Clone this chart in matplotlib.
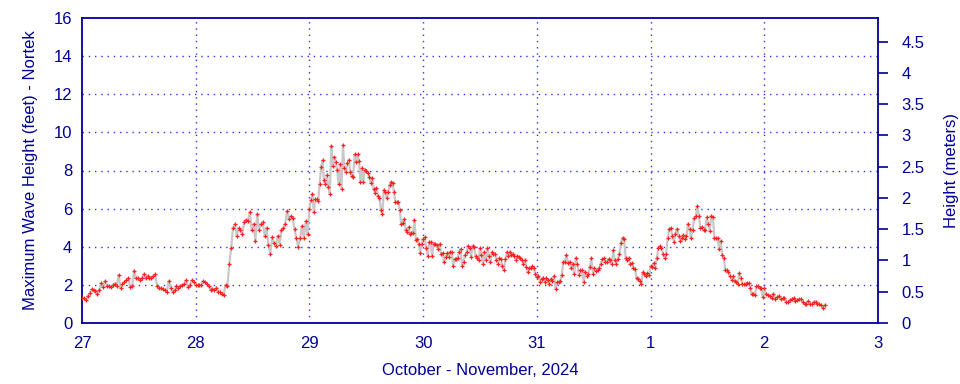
import numpy as np
import matplotlib
matplotlib.use("Agg")
from matplotlib import pyplot as plt

plt.rcParams["font.family"] = ["Liberation Sans", "DejaVu Sans"]

NAVY = "#000096"

# max wave height (ft), one list per day, readings evenly spread over the day
oct27 = [1.29, 1.29, 1.22, 1.43, 1.55, 1.78, 1.71, 1.70, 1.50, 1.75,
         2.08, 1.89, 2.19, 1.96, 1.92, 1.89, 1.99, 2.06, 1.92, 2.52,
         1.85, 2.06, 2.17, 2.24, 2.34, 1.89, 1.92, 2.75, 2.34, 2.38,
         2.24, 2.34, 2.55, 2.34, 2.48, 2.34, 2.38, 2.48, 2.55, 1.92,
         1.85, 1.82, 1.78, 1.71, 1.64, 2.20, 1.82, 1.64, 1.71, 1.96,
         1.85, 1.96, 1.99, 2.06, 2.24, 1.89, 1.99, 2.24, 2.17]
oct28 = [2.00, 1.99, 2.00, 1.99, 2.20, 2.13, 2.06, 1.92, 1.75, 1.78,
         1.71, 1.86, 1.65, 1.65, 1.50, 1.47, 2.00, 1.96, 3.08, 3.92,
         4.97, 5.18, 4.58, 4.97, 4.86, 4.65, 5.32, 5.42, 5.35, 5.81,
         4.90, 5.18, 4.30, 5.70, 4.90, 5.18, 5.28, 4.55, 5.00, 4.10,
         3.64, 4.51, 4.20, 4.02, 4.55, 4.09, 4.86, 4.97, 5.21, 5.88,
         5.46, 5.60, 5.52, 4.93, 4.44, 3.99, 4.48, 5.07, 4.44, 5.35,
         4.65]
oct29 = [6.00, 6.44, 6.79, 5.80, 6.50, 6.48, 6.40, 7.28, 8.19, 8.53,
         7.49, 7.28, 7.77, 7.14, 6.79, 9.27, 8.22, 8.71, 8.47, 8.05,
         7.28, 8.33, 7.03, 9.34, 8.12, 7.91, 8.40, 8.57, 7.94, 7.70,
         7.66, 8.85, 8.47, 8.85, 8.50, 7.38, 8.15, 7.42, 8.05, 7.98,
         7.87, 7.66, 7.35, 7.63, 7.03, 6.82, 7.10, 6.65, 6.58, 5.95,
         5.74, 7.00, 6.89, 6.58, 6.86, 7.24, 7.38, 7.35, 6.89, 6.33,
         6.33, 6.33, 5.91, 5.18, 5.25, 5.46, 4.90, 4.79, 5.04, 4.69,
         4.72, 4.72, 5.42, 4.37, 4.41, 4.16, 3.67, 4.16]
oct30 = [4.41, 4.51, 3.95, 3.53, 4.27, 4.23, 3.50, 4.16, 4.16, 4.09,
         3.88, 4.16, 3.64, 3.67, 3.18, 3.46, 3.67, 3.46, 3.74, 3.74,
         3.01, 3.36, 3.36, 3.43, 3.71, 3.88, 3.01, 3.22, 3.57, 3.71,
         4.06, 3.95, 3.46, 4.06, 3.99, 3.50, 3.39, 3.29, 3.92, 3.57,
         3.08, 3.71, 3.29, 3.92, 3.50, 3.18, 3.71, 3.64, 3.64, 3.32,
         3.11, 3.39, 3.36, 3.01, 2.76, 3.36, 3.71, 3.50, 3.74, 3.57,
         3.64, 3.50, 3.32, 3.50, 3.46, 3.39, 3.32, 3.08, 3.32, 2.94,
         2.69, 2.87, 2.90, 2.97, 2.87, 2.59]
oct31 = [2.41, 2.48, 2.17, 2.31, 2.38, 2.17, 2.38, 2.24, 2.06, 2.31,
         2.20, 2.45, 1.78, 2.14, 2.14, 2.20, 2.52, 3.22, 3.22, 3.57,
         3.15, 3.22, 2.87, 3.11, 2.59, 3.43, 3.11, 2.52, 2.76, 2.76,
         2.14, 2.69, 2.48, 2.59, 2.94, 3.39, 2.59, 2.87, 2.73, 2.80,
         2.90, 3.08, 3.36, 3.39, 3.22, 3.22, 3.36, 3.33, 3.08, 3.81,
         3.33, 3.08, 3.36, 3.64, 4.20, 4.48, 4.41, 3.39, 3.29, 3.43,
         3.08, 3.15, 2.90, 2.83, 2.34, 2.31, 2.20, 2.06, 2.66, 2.59,
         2.48, 2.62, 2.52]
nov01 = [2.97, 2.94, 3.15, 2.90, 3.39, 3.92, 4.04, 3.92, 3.64, 3.39,
         3.64, 4.44, 4.93, 4.97, 4.55, 4.27, 4.69, 4.93, 4.58, 4.30,
         4.44, 4.62, 4.41, 4.55, 5.21, 4.93, 4.44, 4.90, 5.53, 5.60,
         6.12, 5.63, 4.97, 5.04, 4.90, 4.88, 5.54, 5.19, 4.84, 5.61,
         5.54, 4.46, 4.46, 4.46, 3.87, 4.30, 3.55, 3.39, 2.80, 2.76,
         2.66, 2.48, 2.27, 2.45, 2.20, 2.17, 2.06, 2.62, 2.34, 2.03,
         2.03, 2.03, 2.10, 2.10, 1.82, 1.50, 1.54, 1.47, 1.92, 1.92,
         1.85, 1.85, 1.36]
nov02 = [1.82, 1.50, 1.47, 1.43, 1.29, 1.54, 1.26, 1.36, 1.43, 1.26,
         1.29, 1.33, 1.08, 1.08, 1.22, 1.26, 1.33, 1.15, 1.19, 1.26,
         1.26, 1.08, 1.01, 1.01, 1.15, 1.01, 1.01, 1.12, 1.12, 1.01,
         0.98, 0.94, 0.80, 0.94]
nov02_per_day = 62  # last day is partial

day_labels = ["27", "28", "29", "30", "31", "1", "2", "3"]

full_days = [oct27, oct28, oct29, oct30, oct31, nov01]
t = []
h = []
for d, vals in enumerate(full_days):
    n = len(vals)
    t.extend(d + np.arange(n) / n)
    h.extend(vals)
t.extend(len(full_days) + np.arange(len(nov02)) / nov02_per_day)
h.extend(nov02)
t = np.array(t)
h = np.array(h)

fig = plt.figure(figsize=(9.6, 3.84), dpi=100)
ax = fig.add_axes([82 / 960, 61 / 384, 796 / 960, 305 / 384])

ax.plot(t, h, color="#c8c8c8", lw=1.6, zorder=3)
ax.plot(t, h, "+", color="#ff2020", ms=3.2, mew=0.9, zorder=4)

ax.set_xlim(0, 7)
ax.set_ylim(0, 16)
ax.set_xticks(range(8))
ax.set_xticklabels(day_labels)
ax.set_yticks(range(0, 17, 2))

for v in range(1, 7):
    ax.axvline(v, color="#3030ff", lw=1, ls=(0, (1, 3.5)), zorder=1)
for v in range(2, 16, 2):
    ax.axhline(v, color="#3030ff", lw=1, ls=(0, (1, 3.5)), zorder=1)

ax.tick_params(axis="y", length=0, pad=7, labelsize=12, labelcolor=NAVY)
ax.tick_params(axis="x", length=0, pad=9, labelsize=12, labelcolor=NAVY)
for s in ax.spines.values():
    s.set_color(NAVY)
    s.set_linewidth(1.3)

ax.set_ylabel("Maximum Wave Height (feet) - Nortek", fontsize=12,
              color=NAVY, labelpad=11)
ax.set_xlabel("October - November, 2024", fontsize=12, color=NAVY,
              labelpad=9)

ax2 = ax.twinx()
ax2.set_ylim(0, 16 * 0.3048)
ax2.set_yticks(np.arange(0, 4.6, 0.5))
ax2.set_yticklabels(["0", "0.5", "1", "1.5", "2", "2.5", "3", "3.5", "4", "4.5"])
ax2.tick_params(axis="y", direction="out", length=7, width=1.2, color=NAVY,
                pad=10, labelsize=12, labelcolor=NAVY)
ax2.set_ylabel("Height (meters)", fontsize=12, color=NAVY, labelpad=14)
for s in ax2.spines.values():
    s.set_visible(False)

fig.savefig("out.png", dpi=100)
